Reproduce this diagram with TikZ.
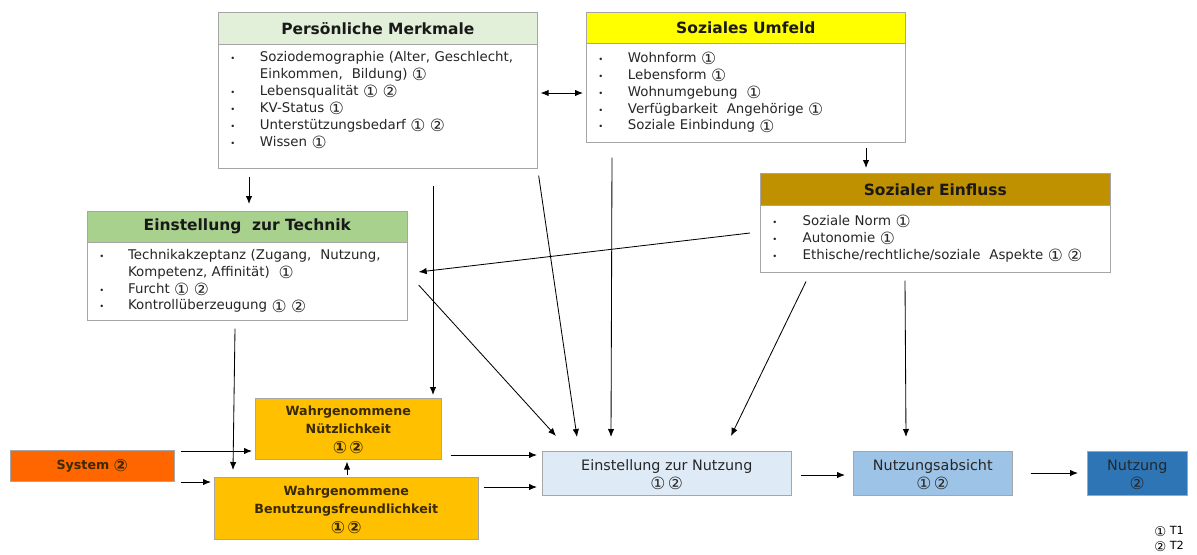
\documentclass[tikz,border=0pt]{standalone}
\usepackage{fontspec}
\setmainfont{DejaVu Sans}
\usepackage{xcolor}
\usetikzlibrary{arrows.meta,calc}

\definecolor{rand}{HTML}{A6A6A6}
\definecolor{pmgruen}{HTML}{E2EFD9}
\definecolor{etgruen}{HTML}{A9D18E}
\definecolor{sugelb}{HTML}{FFFF00}
\definecolor{segold}{HTML}{BF9000}
\definecolor{sysorange}{HTML}{FF6600}
\definecolor{wgelb}{HTML}{FFC000}
\definecolor{enblau}{HTML}{DEEBF7}
\definecolor{nablau}{HTML}{9DC3E6}
\definecolor{nublau}{HTML}{2E75B6}
\definecolor{braun}{HTML}{3A2A00}

\newcommand{\pkt}{{\fontsize{6}{6}\selectfont\textbullet}}
\newcommand{\kr}[2][12]{\smash{\raisebox{-1.6pt}{\fontsize{#1}{#1}\selectfont #2}}}
\newcommand{\eins}{\kr{①}}
\newcommand{\zwei}{\kr{②}}

\begin{document}
\begin{tikzpicture}[
        x=0.025cm, y=-0.025cm,
        >={Latex[length=2mm,width=1.6mm]},
        kopf/.style={draw=rand, anchor=north west, inner sep=0pt, font=\fontsize{11}{13}\selectfont\bfseries, text=black!90},
        liste/.style={draw=rand, fill=white, anchor=north west, inner xsep=0.3cm, inner ysep=0pt, align=left, font=\fontsize{9.5}{12}\selectfont, text=black!85},
        block/.style={draw=rand, anchor=north west, inner sep=0pt, align=center},
        fett/.style={font=\fontsize{9}{12.7}\selectfont\bfseries, text=braun},
        blau/.style={font=\fontsize{10.2}{12}\selectfont, text=black!85},
        pfeil/.style={->, line width=0.6pt}
    ]

    \useasboundingbox (0,0) rectangle (1197,554);

    % Persoenliche Merkmale
    \node[kopf, fill=pmgruen, minimum width=7.975cm, minimum height=0.8cm] (pmkopf) at (218,12) {Persönliche Merkmale};
    \node[liste, text width=7.375cm, minimum height=3.1cm] (pmliste) at (218,44) {%
        \begin{tabular}{@{}p{0.74cm}@{}l@{}}
        \pkt & Soziodemographie (Alter, Geschlecht,\\
             & Einkommen,~ Bildung) \eins\\
        \pkt & Lebensqualität \eins\ \zwei\\
        \pkt & KV-Status \eins\\
        \pkt & Unterstützungsbedarf \eins\ \zwei\\
        \pkt & Wissen \eins\\[8pt]
        \end{tabular}};

    % Soziales Umfeld
    \node[kopf, fill=sugelb, minimum width=7.975cm, minimum height=0.775cm] (sukopf) at (586,12) {Soziales Umfeld};
    \node[liste, text width=7.375cm, minimum height=2.475cm] (suliste) at (586,43) {%
        \begin{tabular}{@{}p{0.74cm}@{}l@{}}
        \pkt & Wohnform \eins\\
        \pkt & Lebensform \eins\\
        \pkt & Wohnumgebung~ \eins\\
        \pkt & Verfügbarkeit~ Angehörige \eins\\
        \pkt & Soziale Einbindung \eins
        \end{tabular}};

    % Sozialer Einfluss
    \node[kopf, fill=segold, minimum width=8.75cm, minimum height=0.8cm] (sekopf) at (760,173) {Sozialer Einfluss};
    \node[liste, text width=8.15cm, minimum height=1.675cm] (seliste) at (760,205) {%
        \begin{tabular}{@{}p{0.76cm}@{}l@{}}
        \pkt & Soziale Norm \eins\\
        \pkt & Autonomie \eins\\
        \pkt & Ethische/rechtliche/soziale~ Aspekte \eins\ \zwei
        \end{tabular}};

    % Einstellung zur Technik
    \node[kopf, fill=etgruen, minimum width=8cm, minimum height=0.775cm] (etkopf) at (87,211) {Einstellung~ zur Technik};
    \node[liste, text width=7.4cm, minimum height=1.95cm] (etliste) at (87,242) {%
        \begin{tabular}{@{}p{0.72cm}@{}l@{}}
        \pkt & Technikakzeptanz (Zugang,~ Nutzung,\\
             & Kompetenz, Affinität)~ \eins\\
        \pkt & Furcht \eins\ \zwei\\
        \pkt & Kontrollüberzeugung \eins\ \zwei
        \end{tabular}};

    % untere Reihe
    \node[block, fett, fill=sysorange, minimum width=4.1cm, minimum height=0.775cm] (system) at (10,450) {System \zwei};
    \node[block, fett, fill=wgelb, minimum width=4.65cm, minimum height=1.525cm] (wn) at (255,398) {Wahrgenommene\\Nützlichkeit\\\eins\,\zwei};
    \node[block, fett, fill=wgelb, minimum width=6.6cm, minimum height=1.55cm] (wb) at (214,477) {Wahrgenommene\\Benutzungsfreundlichkeit\\\eins\,\zwei};
    \node[block, blau, fill=enblau, minimum width=6.225cm, minimum height=1.1cm] (en) at (542,451) {Einstellung zur Nutzung\\\eins\,\zwei};
    \node[block, blau, fill=nablau, minimum width=3.975cm, minimum height=1.1cm] (na) at (853,451) {Nutzungsabsicht\\\eins\,\zwei};
    \node[block, blau, fill=nublau, minimum width=2.5cm, minimum height=1.1cm] (nu) at (1087,451) {Nutzung\\\zwei};

    \node[anchor=north west, align=left, inner sep=0pt, font=\fontsize{8}{10.5}\selectfont] (legende) at (1154,526) {\kr[9.5]{①} T1\\\kr[9.5]{②} T2};

    % Pfeile
    \draw[pfeil, <->] ($(pmliste.north east)+(3,49)$) -- ($(suliste.north west)+(-3,50)$);
    \draw[pfeil] ($(suliste.south west)+(280,5)$) -- ($(sekopf.north west)+(106,-5)$);
    \draw[pfeil] ($(pmliste.south west)+(31,8)$) -- ($(etkopf.north west)+(162,-7)$);
    \draw[pfeil] ($(pmliste.south west)+(215,17)$) -- ($(wn.north west)+(178,-3)$);
    \draw[pfeil] ($(pmliste.south east)+(1,7)$) -- ($(en.north west)+(35,-14)$);
    \draw[pfeil] ($(suliste.south west)+(26,15)$) -- ($(en.north west)+(69,-14)$);
    \draw[pfeil] ($(seliste.north west)+(-10,28)$) -- ($(etliste.north east)+(11,30)$);
    \draw[pfeil] ($(etliste.north east)+(11,43)$) -- ($(en.north west)+(14,-15)$);
    \draw[pfeil] ($(seliste.south west)+(46,9)$) -- ($(en.north west)+(189,-15)$);
    \draw[pfeil] ($(seliste.south west)+(145,8)$) -- ($(na.north west)+(53,-14)$);
    \draw[pfeil] ($(etliste.south west)+(148,8)$) -- ($(wb.north west)+(19,-7)$);
    \draw[pfeil] ($(system.north east)+(6,1)$) -- ($(wn.north west)+(-3,53)$);
    \draw[pfeil] ($(system.north east)+(6,32)$) -- ($(wb.north west)+(-3,5)$);
    \draw[pfeil] ($(wb.north west)+(133,-2)$) -- ($(wn.south west)+(92,2)$);
    \draw[pfeil] ($(wn.north east)+(9,57)$) -- ($(en.north west)+(-5,4)$);
    \draw[pfeil] ($(wb.north east)+(5,10)$) -- ($(en.north west)+(-5,36)$);
    \draw[pfeil] ($(en.north east)+(9,24)$) -- ($(na.north west)+(-8,24)$);
    \draw[pfeil] ($(na.north east)+(18,22)$) -- ($(nu.north west)+(-9,22)$);

\end{tikzpicture}
\end{document}
